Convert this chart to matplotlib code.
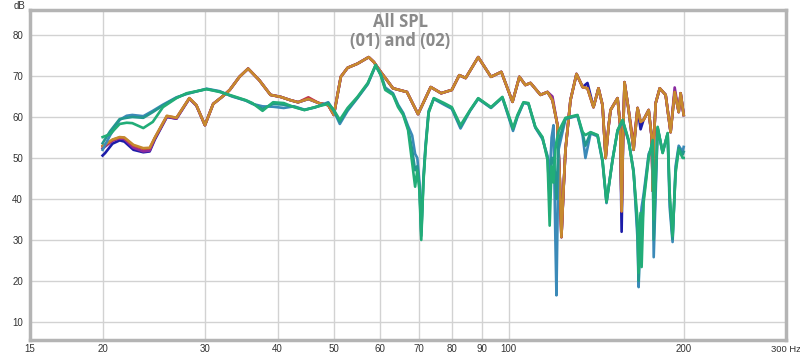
import matplotlib
matplotlib.use("Agg")
import matplotlib.pyplot as plt
from matplotlib.ticker import FixedLocator, NullLocator, NullFormatter

# ---------------- data ----------------
f_orange = [20.0, 20.2, 20.8, 21.4, 21.8, 22.6, 23.5, 24.1, 24.6, 25.8,
            26.8, 28.2, 29.0, 30.0, 31.0, 32.1, 33.1, 34.4, 35.6, 37.2,
            38.9, 40.5, 42.1, 43.4, 45.2, 47.1, 48.9, 50.0, 51.4, 52.8,
            54.9, 57.4, 58.6, 60.2, 61.7, 63.2, 66.8, 69.8, 73.4, 76.5,
            79.8, 82.2, 84.3, 88.6, 93.2, 97.1, 101.5, 104.3, 106.8, 109.0,
            113.4, 116.6, 118.9, 121.3, 122.4, 123.2, 124.2, 125.2, 127.7, 130.8,
            134.0, 136.6, 139.9, 142.7, 145.0, 146.8, 148.6, 149.7, 153.9, 155.5,
            156.4, 157.3, 158.2, 160.8, 164.0, 166.6, 168.6, 170.6, 174.1, 176.2,
            176.9, 177.8, 179.0, 181.9, 186.2, 189.9, 193.0, 196.1, 197.6, 200.0]

db_orange = [53.0, 53.3, 54.5, 55.1, 55.0, 53.2, 52.4, 52.5, 55.0, 60.3,
             59.8, 64.6, 62.9, 58.0, 63.2, 64.9, 66.6, 69.8, 71.8, 69.0,
             65.4, 64.9, 64.1, 63.6, 64.4, 63.4, 62.9, 60.5, 69.8, 72.0,
             73.0, 74.6, 73.4, 71.0, 69.0, 67.0, 66.1, 60.7, 67.3, 65.8,
             66.6, 70.2, 69.5, 74.6, 69.8, 71.0, 63.7, 69.8, 67.8, 68.3,
             65.4, 66.1, 64.1, 58.0, 45.0, 30.7, 42.0, 52.0, 64.1, 70.5,
             67.3, 67.0, 62.4, 67.0, 62.9, 50.0, 58.0, 61.7, 64.6, 58.0,
             37.0, 55.0, 68.5, 61.7, 52.0, 62.2, 58.8, 59.3, 61.7, 55.0,
             42.0, 55.0, 63.4, 67.0, 65.4, 56.3, 66.1, 61.2, 65.8, 60.5]

db_purple = [52.3, 52.8, 54.2, 54.8, 54.6, 52.5, 51.6, 51.8, 54.8, 60.1,
             59.6, 64.5, 62.8, 58.0, 63.2, 64.9, 66.6, 69.8, 71.8, 69.0,
             65.4, 64.9, 64.1, 63.6, 64.4, 63.4, 62.9, 60.5, 69.8, 72.0,
             73.0, 74.6, 73.4, 71.0, 69.0, 67.0, 66.1, 60.7, 67.3, 65.8,
             66.6, 70.2, 69.5, 74.6, 69.8, 71.0, 63.7, 69.8, 67.8, 68.3,
             65.4, 66.1, 65.0, 58.0, 45.0, 30.7, 42.0, 52.0, 64.1, 70.5,
             67.3, 67.0, 62.4, 67.0, 62.9, 50.0, 58.0, 61.7, 64.6, 58.0,
             37.0, 55.0, 68.5, 61.7, 52.0, 62.2, 58.8, 59.3, 61.7, 55.0,
             42.0, 55.0, 63.4, 67.0, 65.4, 56.3, 67.2, 61.2, 65.8, 60.5]

db_navy = [50.6, 51.2, 53.5, 54.3, 54.0, 52.0, 51.4, 51.6, 54.5, 60.0,
           59.6, 64.5, 62.8, 58.0, 63.2, 64.9, 66.6, 69.8, 71.8, 69.0,
           65.4, 64.9, 64.1, 63.6, 64.4, 63.4, 62.9, 60.5, 69.8, 72.0,
           73.0, 74.6, 73.4, 71.0, 69.0, 67.0, 66.1, 60.7, 67.3, 65.8,
           66.6, 70.2, 69.5, 74.6, 69.8, 71.0, 63.7, 69.8, 67.8, 68.3,
           65.4, 66.1, 64.1, 58.0, 45.0, 30.7, 42.0, 52.0, 64.1, 70.5,
           67.3, 68.3, 62.4, 67.0, 62.9, 50.0, 58.0, 61.7, 64.6, 58.0,
           32.0, 55.0, 68.5, 61.7, 52.0, 62.2, 57.0, 59.3, 61.7, 55.0,
           42.0, 55.0, 63.4, 67.0, 65.4, 56.3, 66.1, 61.2, 65.8, 60.5]

db_red = [52.8, 53.0, 54.4, 55.0, 54.9, 53.0, 52.2, 52.3, 54.9, 60.2,
          59.8, 64.6, 62.9, 58.0, 63.2, 64.9, 66.6, 69.8, 71.8, 69.0,
          65.4, 64.9, 64.1, 63.6, 64.8, 63.4, 62.9, 60.5, 69.8, 72.0,
          73.0, 74.6, 73.4, 71.0, 69.0, 67.0, 66.1, 60.7, 67.3, 65.8,
          66.6, 70.2, 69.5, 74.6, 69.8, 71.0, 63.7, 69.8, 67.8, 68.3,
          65.4, 66.1, 64.1, 58.0, 45.0, 30.7, 42.0, 52.0, 64.1, 70.5,
          67.3, 67.0, 62.4, 67.0, 62.9, 50.0, 58.0, 61.7, 64.6, 58.0,
          37.0, 55.0, 68.5, 61.7, 53.5, 62.2, 58.8, 59.3, 61.7, 55.0,
          42.0, 55.0, 63.4, 67.0, 65.4, 56.3, 66.1, 61.2, 65.8, 60.5]

f_green = [20.0, 20.6, 21.4, 22.0, 22.5, 23.5, 24.4, 25.4, 26.8, 27.9,
           30.2, 31.8, 33.4, 35.3, 36.2, 37.7, 39.3, 41.0, 42.7, 44.5,
           46.4, 48.9, 50.0, 51.2, 52.8, 54.9, 57.2, 59.0, 60.2, 61.3,
           63.2, 64.5, 65.8, 67.1, 68.2, 69.0, 69.6, 70.2, 70.7, 71.3,
           71.9, 72.8, 74.3, 77.4, 79.8, 82.6, 85.8, 88.6, 93.2, 97.5,
           101.7, 103.5, 106.0, 108.1, 111.1, 114.3, 116.6, 117.6, 118.5, 119.4,
           120.3, 120.8, 121.8, 125.2, 131.3, 134.0, 135.5, 138.3, 142.2, 145.0,
           147.3, 150.9, 153.9, 157.0, 160.8, 164.0, 166.6, 167.3, 168.6, 169.3,
           170.6, 174.1, 176.9, 177.6, 180.4, 184.0, 187.7, 189.2, 191.4, 193.7,
           196.1, 199.2, 200.0]

db_green = [55.1, 55.8, 58.3, 58.6, 58.5, 57.3, 58.8, 62.4, 64.6, 65.8,
            66.8, 66.1, 65.2, 64.1, 63.4, 61.5, 63.6, 63.4, 62.4, 61.7,
            62.4, 63.2, 61.7, 59.3, 62.2, 64.9, 68.3, 72.7, 70.2, 66.6,
            65.4, 62.4, 60.5, 56.8, 48.8, 43.0, 47.0, 42.0, 30.0, 44.0,
            52.0, 61.0, 64.6, 63.4, 62.4, 58.0, 61.7, 64.6, 62.4, 64.9,
            57.3, 60.5, 63.6, 63.4, 57.6, 55.1, 49.5, 33.5, 48.0, 44.0,
            52.0, 54.0, 56.5, 59.8, 60.5, 56.3, 55.6, 56.3, 55.6, 49.5,
            39.3, 49.5, 56.8, 59.3, 54.4, 46.3, 34.9, 22.0, 36.6, 23.4,
            39.0, 50.0, 54.4, 35.0, 57.6, 51.2, 56.1, 41.5, 31.0, 46.3,
            52.0, 50.0, 50.0]

db_teal = [53.6, 56.5, 59.5, 59.8, 60.0, 59.8, 61.2, 62.8, 64.7, 65.7,
           66.8, 66.2, 65.1, 64.0, 63.3, 62.0, 63.2, 63.0, 62.5, 61.7,
           62.4, 63.4, 61.6, 58.8, 61.8, 64.7, 68.1, 72.6, 70.3, 66.9,
           65.6, 62.7, 60.8, 57.2, 52.0, 47.0, 48.0, 43.0, 31.0, 44.5,
           52.5, 61.2, 64.5, 63.2, 62.2, 57.6, 61.6, 64.5, 62.3, 64.8,
           57.0, 60.2, 63.5, 63.3, 57.5, 54.9, 50.0, 40.0, 50.0, 50.0,
           45.0, 40.0, 54.0, 59.6, 60.4, 56.0, 53.0, 56.2, 55.5, 49.3,
           39.2, 49.6, 56.7, 59.2, 54.2, 46.6, 32.0, 20.0, 36.0, 30.0,
           40.0, 50.5, 53.8, 30.0, 57.4, 51.3, 56.0, 40.0, 30.2, 47.0,
           52.5, 50.8, 51.5]

db_steel = [52.0, 55.5, 59.3, 60.3, 60.5, 60.2, 61.5, 63.0, 64.8, 65.6,
            66.9, 66.3, 65.0, 64.0, 63.2, 62.6, 62.5, 62.2, 62.6, 61.8,
            62.3, 63.6, 61.5, 58.3, 61.5, 64.6, 68.0, 72.5, 70.5, 67.2,
            65.8, 63.0, 61.0, 57.8, 55.5, 51.0, 50.0, 44.0, 32.0, 45.0,
            53.0, 61.5, 64.4, 63.0, 62.0, 57.2, 61.5, 64.4, 62.2, 64.7,
            56.6, 60.0, 63.4, 63.2, 57.4, 54.6, 50.5, 45.0, 55.0, 58.0,
            30.0, 16.5, 52.0, 59.5, 60.3, 55.5, 50.0, 56.0, 55.3, 49.0,
            39.0, 49.8, 56.5, 59.0, 54.0, 47.0, 30.0, 18.5, 35.0, 38.0,
            41.0, 51.0, 53.0, 25.8, 57.2, 51.5, 55.8, 38.0, 29.5, 48.0,
            53.0, 51.5, 52.7]

x_ticks = [15, 20, 30, 40, 50, 60, 70, 80, 90, 100, 200, 300]
x_tick_labels = ["15", "20", "30", "40", "50", "60", "70", "80", "90", "100", "200", ""]
x_end_label = "300 Hz"
y_ticks = [10, 20, 30, 40, 50, 60, 70, 80]
title_lines = ["All SPL", "(01) and (02)"]

# ---------------- figure ----------------
W, H = 800, 356
fig = plt.figure(figsize=(W / 100, H / 100), dpi=100)
ax = fig.add_axes([30 / W, 16 / H, 756 / W, 330 / H])

ax.set_xscale("log")
ax.set_xlim(15, 300)
ax.set_ylim(5.6, 86.1)

lw = 1.9
ax.plot(f_orange, db_navy, color="#1c1ca8", lw=lw, zorder=3)
ax.plot(f_orange, db_purple, color="#8a2aa0", lw=lw, zorder=3)
ax.plot(f_orange, db_red, color="#c2344c", lw=lw, zorder=3)
ax.plot(f_orange, db_orange, color="#c68a2e", lw=lw, zorder=4)
ax.plot(f_green, db_steel, color="#3b8ab8", lw=lw, zorder=5)
ax.plot(f_green, db_teal, color="#23978e", lw=lw, zorder=5)
ax.plot(f_green, db_green, color="#22ad78", lw=lw, zorder=6)

tick_font = "Liberation Sans"
ax.xaxis.set_major_locator(FixedLocator(x_ticks))
ax.xaxis.set_minor_locator(NullLocator())
ax.xaxis.set_minor_formatter(NullFormatter())
ax.set_xticklabels(x_tick_labels, family=tick_font)
ax.set_yticks(y_ticks)
ax.set_yticklabels([str(v) for v in y_ticks], family=tick_font)
ax.grid(True, color="#d2d2d2", lw=1.0, zorder=0)
ax.tick_params(axis="x", length=0, labelsize=7, colors="#333333", pad=3)
ax.tick_params(axis="y", length=0, labelsize=7, colors="#333333", pad=5)
for sp in ax.spines.values():
    sp.set_color("#b4b4b4")
    sp.set_linewidth(2.5)

fig.text(14 / W, 1 - 6 / H, "dB", fontsize=7, color="#333333", va="center",
         family=tick_font)
fig.text(771 / W, 1 - 349 / H, x_end_label, fontsize=6.8, color="#333333",
         va="center", ha="left", family=tick_font)

ax.text(0.49, 0.99, title_lines[0], transform=ax.transAxes, ha="center", va="top",
        fontsize=12, fontweight="bold", color="#8a8a8a", family="Open Sans")
ax.text(0.49, 0.932, title_lines[1], transform=ax.transAxes, ha="center", va="top",
        fontsize=12, fontweight="bold", color="#8a8a8a", family="Open Sans")

fig.savefig("out.png", dpi=100)
